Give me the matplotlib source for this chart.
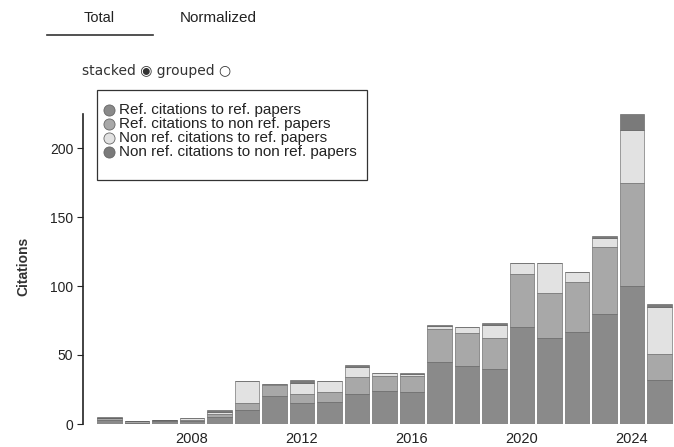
import numpy as np
import matplotlib
matplotlib.use('Agg')
import matplotlib.pyplot as plt
from matplotlib.lines import Line2D
from matplotlib.patches import Rectangle

plt.rcParams['font.family'] = ['Liberation Sans', 'DejaVu Sans']

# Citation counts per year, stacked from bottom to top
YEARS = list(range(2005, 2026))
REF_TO_REF = [3, 1, 2, 2, 5, 10, 20, 15, 16, 22, 24, 23, 45, 42, 40, 70, 62, 67, 80, 100, 32]
REF_TO_NONREF = [1, 1, 1, 1, 2, 5, 8, 7, 7, 12, 11, 12, 24, 24, 22, 39, 33, 36, 48, 75, 19]
NONREF_TO_REF = [0, 0, 0, 1, 2, 16, 1, 8, 8, 7, 2, 1, 2, 4, 10, 8, 22, 7, 7, 38, 34]
NONREF_TO_NONREF = [1, 0, 0, 0, 1, 0, 0, 2, 0, 2, 0, 1, 1, 0, 1, 0, 0, 0, 1, 12, 2]

SERIES = [
    ('Ref. citations to ref. papers', REF_TO_REF, '#8a8a8a'),
    ('Ref. citations to non ref. papers', REF_TO_NONREF, '#a8a8a8'),
    ('Non ref. citations to ref. papers', NONREF_TO_REF, '#e2e2e2'),
    ('Non ref. citations to non ref. papers', NONREF_TO_NONREF, '#7a7a7a'),
]

X_TICKS = [2008, 2012, 2016, 2020, 2024]
Y_TICKS = [0, 50, 100, 150, 200]

W, H = 674, 447
fig = plt.figure(figsize=(W / 100, H / 100), dpi=100)


def fx(px):
    return px / W


def fy(py):
    return 1 - py / H


# axes placed in pixel terms
left, right, bottom, top = 83, 674, 424, 109
ax = fig.add_axes([fx(left), fy(bottom), (right - left) / W, (bottom - top) / H])

years = np.array(YEARS)
base = np.zeros(len(years))
for name, vals, color in SERIES:
    vals = np.array(vals, dtype=float)
    ax.bar(years, vals, width=0.9, bottom=base, color=color,
           edgecolor='#5a5a5a', linewidth=0.4)
    base += vals

totals = base
ax.set_xlim(2004.04, 2025.53)
ax.set_ylim(0, (bottom - top) / 1.38)

for s in ['top', 'right', 'bottom']:
    ax.spines[s].set_visible(False)
ax.spines['left'].set_bounds(0, totals.max())
ax.spines['left'].set_linewidth(1.2)
ax.spines['left'].set_color('#222222')

ax.set_yticks(Y_TICKS)
ax.set_xticks(X_TICKS)
ax.tick_params(axis='y', length=4, width=0.8, labelsize=10, colors='#222222', pad=3)
ax.tick_params(axis='x', length=0, labelsize=10.5, colors='#222222', pad=6)
ax.set_ylabel('Citations', fontsize=10, fontweight='bold', labelpad=14, color='#333333')

# legend drawn by hand: box and rows with round markers
fig.add_artist(Rectangle((fx(97), fy(180)), fx(367) - fx(97), fy(90) - fy(180),
                         transform=fig.transFigure, facecolor='white',
                         edgecolor='#333333', linewidth=0.9))
for i, (name, _, color) in enumerate(SERIES):
    yy = 110 + 14 * i
    fig.add_artist(Line2D([fx(109)], [fy(yy)], marker='o', markersize=8,
                          markerfacecolor=color, markeredgecolor='#666666',
                          markeredgewidth=0.6, linestyle=''))
    fig.text(fx(119), fy(yy), name, ha='left', va='center', fontsize=11, color='#222222')

# header controls
fig.text(fx(99), fy(18), 'Total', ha='center', va='center', fontsize=10.5, color='#222222')
fig.text(fx(218), fy(18), 'Normalized', ha='center', va='center', fontsize=11, color='#222222')
fig.add_artist(Line2D([fx(47), fx(153)], [fy(35), fy(35)], color='#333333', linewidth=1.2))
fig.text(fx(82), fy(71), 'stacked \u25c9 grouped \u25cb', ha='left', va='center',
         fontsize=10, color='#333333', family=['DejaVu Sans'])

fig.savefig('out.png', dpi=100, facecolor='white')
